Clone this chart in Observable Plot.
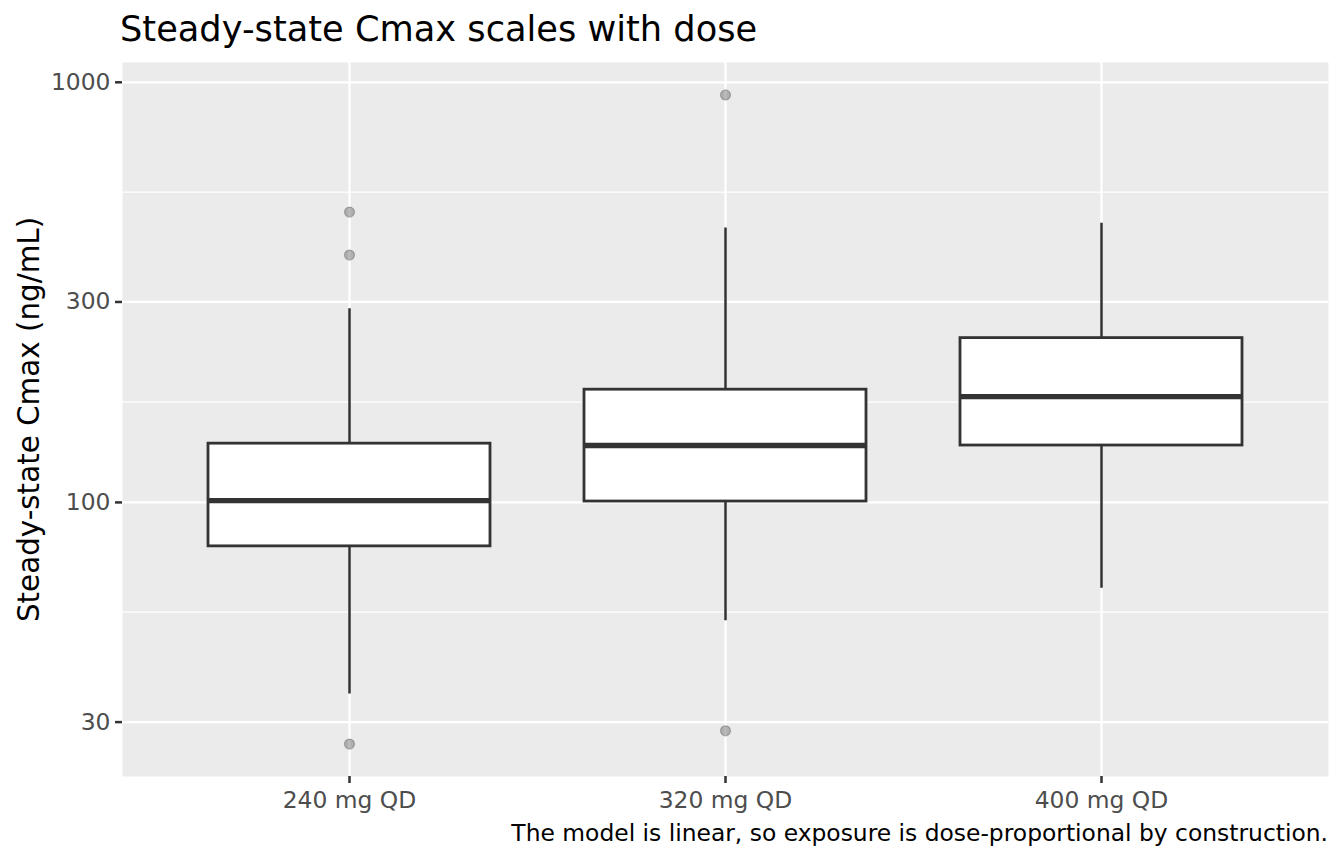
<!DOCTYPE html>
<html>
<head>
<meta charset="utf-8">
<script src="https://cdn.jsdelivr.net/npm/d3@7"></script>
<script src="https://cdn.jsdelivr.net/npm/@observablehq/plot@0.6"></script>
<style>
  html, body { margin: 0; padding: 0; background: #fff; }
  body { width: 1344px; height: 864px; position: relative; overflow: hidden; font-family: "DejaVu Sans", sans-serif; }
  #title { position: absolute; left: 120px; top: 10.5px; font-size: 35.2px; line-height: 1; color: #000; white-space: nowrap; }
  #chart { position: absolute; left: 0; top: 52px; }
  #caption { position: absolute; right: 16px; top: 822px; font-size: 23.4px; line-height: 1; color: #000; white-space: nowrap; }
</style>
</head>
<body>
<div id="title">Steady-state Cmax scales with dose</div>
<div id="chart"></div>
<div id="caption">The model is linear, so exposure is dose-proportional by construction.</div>
<script>
// ---- data ----
const doses = ["240 mg QD", "320 mg QD", "400 mg QD"];
const whiskerLow  = [35.0, 52.3, 62.5];
const q1          = [78.6, 100.5, 136.6];
const median      = [101, 136.6, 178.6];
const q3          = [138, 185.5, 246.1];
const whiskerHigh = [289, 450, 462];
const outlierDose  = ["240 mg QD", "240 mg QD", "240 mg QD", "320 mg QD", "320 mg QD"];
const outlierValue = [491, 388, 26.6, 933, 28.6];
const yTicks = [30, 100, 300, 1000];
const yMinor = [54.8, 173.2, 547.7];
const yLabel = "Steady-state Cmax (ng/mL)";

// ---- tables built from the arrays ----
const boxes = doses.map((d, i) => ({dose: d, lo: whiskerLow[i], q1: q1[i], med: median[i], q3: q3[i], hi: whiskerHigh[i]}));
const outliers = outlierDose.map((d, i) => ({dose: d, value: outlierValue[i]}));

// ggplot-like 5% expansion on the log scale
const allVals = [...whiskerLow, ...whiskerHigh, ...outlierValue];
const lmin = Math.log10(d3.min(allVals)), lmax = Math.log10(d3.max(allVals));
const pad = (lmax - lmin) * 0.05;
const yDomain = [Math.pow(10, lmin - pad), Math.pow(10, lmax + pad)];

const dark = "#333333";

const plot = Plot.plot({
  width: 1344,
  height: 764,
  marginTop: 10,
  marginBottom: 40,
  marginLeft: 122,
  marginRight: 16,
  style: {fontFamily: "DejaVu Sans", fontSize: "23.4px", background: "transparent"},
  x: {domain: doses, paddingInner: 0.25, paddingOuter: 0.225},
  y: {type: "log", domain: yDomain},
  marks: [
    Plot.frame({fill: "#ebebeb", stroke: null}),
    Plot.ruleY(yMinor, {stroke: "#fff", strokeWidth: 1.2}),
    Plot.ruleY(yTicks, {stroke: "#fff", strokeWidth: 2.2}),
    Plot.ruleX(doses, {x: d => d, stroke: "#fff", strokeWidth: 2.2}),
    Plot.ruleX(boxes, {x: "dose", y1: "lo", y2: "hi", stroke: dark, strokeWidth: 2.5}),
    Plot.barY(boxes, {x: "dose", y1: "q1", y2: "q3", fill: "#fff", stroke: dark, strokeWidth: 2.8}),
    Plot.tickY(boxes, {x: "dose", y: "med", stroke: dark, strokeWidth: 5.4}),
    Plot.dot(outliers, {x: "dose", y: "value", r: 5, fill: "#555", fillOpacity: 0.4, stroke: "#555", strokeOpacity: 0.4, strokeWidth: 1.2}),
    Plot.axisY({ticks: yTicks, tickFormat: d => String(d), tickSize: 7, tickPadding: 5, strokeWidth: 2.5, stroke: dark, fill: "#4d4d4d", fontSize: 23.4, label: null}),
    Plot.axisX({tickSize: 7, tickPadding: 8, strokeWidth: 2.5, stroke: dark, fill: "#4d4d4d", fontSize: 23.4, label: null}),
    Plot.text([yLabel], {frameAnchor: "left", rotate: -90, dx: -84, lineAnchor: "bottom", textAnchor: "middle", fontSize: 29.4, fill: "#000"})
  ]
});
document.getElementById("chart").appendChild(plot);
</script>
</body>
</html>
